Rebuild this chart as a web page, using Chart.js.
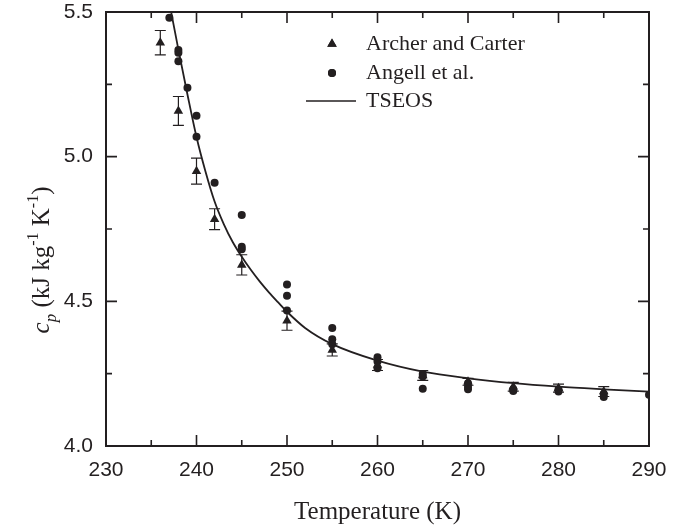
<!DOCTYPE html>
<html>
<head>
<meta charset="utf-8">
<script src="https://cdn.jsdelivr.net/npm/chart.js@4.4.1/dist/chart.umd.min.js"></script>
<style>
  html, body { margin: 0; padding: 0; background: #fff; }
  #wrap { width: 695px; height: 528px; }
</style>
</head>
<body>
<div id="wrap"><canvas id="cpChart" width="695" height="528"></canvas></div>
<script>
// Archer and Carter (triangles, with error bars)
const archerT = [236, 238, 240, 242, 245, 250, 255, 260, 265, 270, 275, 280, 285];
const archerCp = [5.394, 5.158, 4.950, 4.784, 4.626, 4.433, 4.332, 4.280, 4.244, 4.222, 4.205, 4.200, 4.188];
const archerErr = [0.042, 0.050, 0.045, 0.036, 0.035, 0.033, 0.021, 0.019, 0.017, 0.012, 0.015, 0.014, 0.017];

// Angell et al. (circles)
const angellT = [237, 238, 238, 238, 239, 240, 240, 242, 245, 245, 245, 250, 250, 250,
  255, 255, 255, 260, 260, 260, 265, 265, 265, 270, 270, 270, 275, 275, 280, 280, 285, 285, 290];
const angellCp = [5.480, 5.369, 5.359, 5.330, 5.238, 5.141, 5.069, 4.910, 4.798, 4.689, 4.680, 4.558, 4.519, 4.468,
  4.408, 4.369, 4.352, 4.307, 4.292, 4.269, 4.249, 4.240, 4.198, 4.217, 4.205, 4.196, 4.190, 4.196, 4.188, 4.195, 4.180, 4.169, 4.177];

// TSEOS curve
const tseosT = [237.2, 238, 239, 240, 241, 242, 243, 244, 245, 246, 247, 248, 249, 250,
  252, 255, 260, 265, 270, 275, 280, 285, 290];
const tseosCp = [5.50, 5.37, 5.215, 5.068, 4.948, 4.845, 4.768, 4.705, 4.654, 4.609, 4.568, 4.531, 4.497, 4.464,
  4.408, 4.352, 4.295, 4.257, 4.234, 4.217, 4.205, 4.196, 4.188];

// axis ticks
const xMajor = [230, 240, 250, 260, 270, 280, 290];
const xMinor = [235, 245, 255, 265, 275, 285];
const yMajor = [4.0, 4.5, 5.0, 5.5];
const yMinor = [4.25, 4.75, 5.25];

const ink = '#231f20';
const serif = '"Liberation Serif", "Times New Roman", serif';
const sans = '"Liberation Sans", Arial, sans-serif';

const toPoints = (xs, ys) => xs.map((v, i) => ({ x: v, y: ys[i] }));

// box frame with inward ticks on all four sides
const framePlugin = {
  id: 'frame',
  afterDatasetsDraw(chart) {
    const { ctx, chartArea: a, scales: { x, y } } = chart;
    ctx.save();
    ctx.strokeStyle = ink;
    ctx.lineWidth = 2;
    ctx.strokeRect(a.left, a.top, a.right - a.left, a.bottom - a.top);
    ctx.lineWidth = 1.6;
    ctx.beginPath();
    const xt = (v, len) => {
      const p = x.getPixelForValue(v);
      ctx.moveTo(p, a.bottom); ctx.lineTo(p, a.bottom - len);
      ctx.moveTo(p, a.top); ctx.lineTo(p, a.top + len);
    };
    const yt = (v, len) => {
      const p = y.getPixelForValue(v);
      ctx.moveTo(a.left, p); ctx.lineTo(a.left + len, p);
      ctx.moveTo(a.right, p); ctx.lineTo(a.right - len, p);
    };
    xMajor.forEach(v => xt(v, 11));
    xMinor.forEach(v => xt(v, 6));
    yMajor.forEach(v => yt(v, 11));
    yMinor.forEach(v => yt(v, 6));
    ctx.stroke();
    ctx.restore();
  }
};

// error bars for the Archer and Carter points
const errorBarPlugin = {
  id: 'errorBars',
  beforeDatasetsDraw(chart) {
    const { ctx, scales: { x, y } } = chart;
    ctx.save();
    ctx.strokeStyle = ink;
    ctx.lineWidth = 1.2;
    ctx.beginPath();
    archerT.forEach((t, i) => {
      const px = x.getPixelForValue(t);
      const top = y.getPixelForValue(archerCp[i] + archerErr[i]);
      const bot = y.getPixelForValue(archerCp[i] - archerErr[i]);
      ctx.moveTo(px, top); ctx.lineTo(px, bot);
      ctx.moveTo(px - 5.5, top); ctx.lineTo(px + 5.5, top);
      ctx.moveTo(px - 5.5, bot); ctx.lineTo(px + 5.5, bot);
    });
    ctx.stroke();
    ctx.restore();
  }
};

// legend and y axis title with sub/superscripts
const annotPlugin = {
  id: 'annot',
  afterDraw(chart) {
    const { ctx } = chart;
    ctx.save();
    ctx.fillStyle = ink;
    ctx.strokeStyle = ink;

    // legend
    Chart.helpers.drawPoint(ctx, { pointStyle: 'triangle', radius: 5.5, borderWidth: 0 }, 332, 44);
    ctx.fill();
    Chart.helpers.drawPoint(ctx, { pointStyle: 'circle', radius: 4, borderWidth: 0 }, 332, 73);
    ctx.fill();
    ctx.lineWidth = 1.6;
    ctx.beginPath();
    ctx.moveTo(306, 101); ctx.lineTo(356, 101);
    ctx.stroke();
    ctx.font = '22px ' + serif;
    ctx.textBaseline = 'middle';
    ctx.textAlign = 'left';
    ctx.fillText('Archer and Carter', 366, 44);
    ctx.fillText('Angell et al.', 366, 73);
    ctx.fillText('TSEOS', 366, 101);

    // y title: c_p (kJ kg^-1 K^-1)
    const parts = [
      { t: 'c', f: 'italic 25px ' + serif, dy: 0 },
      { t: 'p', f: 'italic 17px ' + serif, dy: 7 },
      { t: ' (kJ kg', f: '25px ' + serif, dy: 0 },
      { t: '-1', f: '16px ' + serif, dy: -11 },
      { t: ' K', f: '25px ' + serif, dy: 0 },
      { t: '-1', f: '16px ' + serif, dy: -11 },
      { t: ')', f: '25px ' + serif, dy: 0 }
    ];
    ctx.textBaseline = 'alphabetic';
    let total = 0;
    parts.forEach(p => { ctx.font = p.f; p.w = ctx.measureText(p.t).width; total += p.w; });
    ctx.translate(49, 260);
    ctx.rotate(-Math.PI / 2);
    let cx = -total / 2;
    parts.forEach(p => { ctx.font = p.f; ctx.fillText(p.t, cx, p.dy); cx += p.w; });
    ctx.restore();
  }
};

new Chart(document.getElementById('cpChart'), {
  type: 'scatter',
  data: {
    datasets: [
      {
        label: 'TSEOS',
        data: toPoints(tseosT, tseosCp),
        showLine: true,
        borderColor: ink,
        borderWidth: 1.8,
        pointRadius: 0,
        cubicInterpolationMode: 'monotone',
        fill: false
      },
      {
        label: 'Archer and Carter',
        data: toPoints(archerT, archerCp),
        pointStyle: 'triangle',
        pointRadius: 5.5,
        backgroundColor: ink,
        borderColor: ink,
        borderWidth: 0,
        clip: 0
      },
      {
        label: 'Angell et al.',
        data: toPoints(angellT, angellCp),
        pointStyle: 'circle',
        pointRadius: 4,
        backgroundColor: ink,
        borderColor: ink,
        borderWidth: 0,
        clip: 0
      }
    ]
  },
  options: {
    responsive: false,
    animation: false,
    layout: { padding: { left: 0, top: 12, right: 46, bottom: 0 } },
    plugins: { legend: { display: false }, tooltip: { enabled: false } },
    scales: {
      x: {
        type: 'linear',
        min: 230,
        max: 290,
        afterFit: s => { s.height = 82; s.paddingLeft = 0; s.paddingRight = 0; },
        grid: { display: false },
        border: { display: false },
        ticks: { stepSize: 10, color: ink, font: { family: sans, size: 21 }, padding: 4 },
        title: {
          display: true,
          text: 'Temperature (K)',
          color: ink,
          font: { family: serif, size: 25 },
          padding: { top: 0, bottom: 1 }
        }
      },
      y: {
        min: 4.0,
        max: 5.5,
        afterFit: s => { s.width = 106; s.paddingTop = 0; s.paddingBottom = 0; },
        grid: { display: false },
        border: { display: false },
        ticks: {
          stepSize: 0.5,
          color: ink,
          font: { family: sans, size: 21 },
          padding: 5,
          callback: v => v.toFixed(1)
        }
      }
    }
  },
  plugins: [framePlugin, errorBarPlugin, annotPlugin]
});
</script>
</body>
</html>
